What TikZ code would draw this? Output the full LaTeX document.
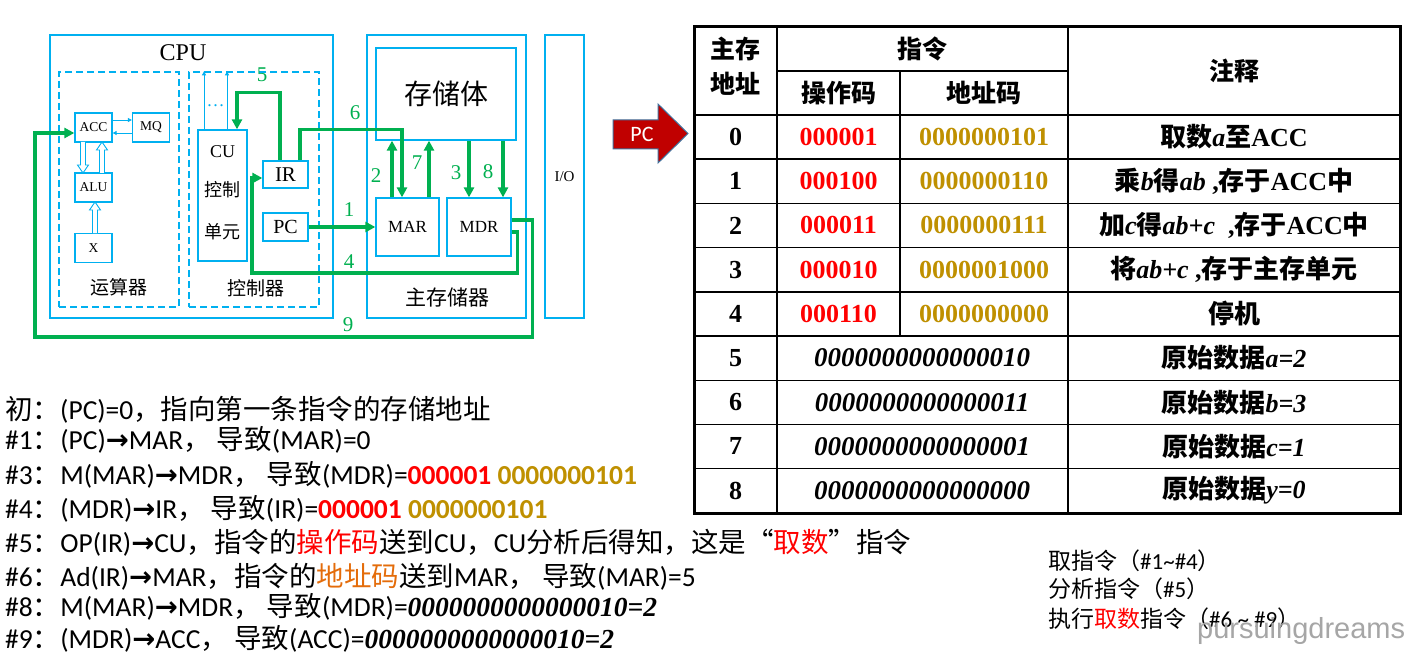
\documentclass[tikz,border=0pt]{standalone}
\usepackage{fontspec}
\setmainfont{Liberation Serif}
\newfontfamily\cjk{Noto Sans CJK SC}
\newfontfamily\cali{Carlito}
\newfontfamily\symb{DejaVu Sans}
\newfontfamily\filig{Liberation Sans}
\usepackage{xcolor}
\usetikzlibrary{arrows.meta, positioning}
\definecolor{bleu}{HTML}{00B0F0}
\definecolor{vert}{HTML}{00B050}
\definecolor{rouge}{HTML}{FF0000}
\definecolor{or}{HTML}{BF9000}
\definecolor{orange}{HTML}{E46C0A}
\definecolor{pcrouge}{HTML}{C00000}
\definecolor{pcbord}{HTML}{41719C}
\definecolor{gris}{HTML}{A6A6A6}
\newcommand\zh[1]{{\cjk #1}}
\newcommand\bi[1]{{\rmfamily\bfseries\itshape #1}}
\newcommand\fl{{\symb\bfseries →}}
\newcommand\taille[1]{\fontsize{#1}{#1}\selectfont}

\begin{document}
\begin{tikzpicture}[x=1pt, y=-1pt, >={Triangle[length=10pt,width=10pt]},
    boite/.style={draw=bleu, line width=1.3, inner sep=0},
    cadre/.style={draw=bleu, line width=2.2, inner sep=0},
    tiret/.style={draw=bleu, line width=1.3, dash pattern=on 7pt off 4pt, inner sep=0},
    fil/.style={vert, line width=3.2},
    fin/.style={bleu, line width=0.9, -{Triangle[length=4pt,width=4pt]}},
    num/.style={text=vert, font=\taille{21}, inner sep=0},
    cel/.style={font=\bfseries\taille{26}, inner sep=0},
    tete/.style={font=\bfseries\cjk\fontsize{25}{35}\selectfont, inner sep=0, align=center},
    ligne/.style={anchor=west, inner sep=0, font=\cali\taille{27.5}},
    petit/.style={anchor=west, inner sep=0, font=\cali\taille{23}}]
  \useasboundingbox (0,0) rectangle (1421,655);
  \fill[white] (0,0) rectangle (1421,655);

  % CPU et memoire
  \node[cadre, minimum width=283, minimum height=283] (cpu) at (191.5,176.5) {};
  \node[font=\taille{24}, inner sep=0] (cputxt) at (183,53) {CPU};
  \node[tiret, minimum width=120, minimum height=235] (calc) at (119,189.5) {};
  \node[tiret, minimum width=130, minimum height=235] (ctrl) at (254,189.5) {};
  \node[font=\cjk\taille{19}, inner sep=0] (calctxt) at (119,287) {运算器};
  \node[font=\cjk\taille{19}, inner sep=0] (ctrltxt) at (256,288) {控制器};
  \node[cadre, minimum width=159, minimum height=283] (mem) at (446.5,176.5) {};
  \node[cadre, minimum width=39, minimum height=283, font=\taille{15}] (io) at (564.5,176.5) {I/O};
  \node[font=\cjk\taille{21}, inner sep=0] (memtxt) at (447,297) {主存储器};

  % registres
  \node[boite, minimum width=37, minimum height=29, font=\taille{13.5}] (acc) at (93.5,127.5) {ACC};
  \node[boite, minimum width=37, minimum height=29, font=\taille{13.5}] (mq) at (151,127.5) {MQ};
  \node[boite, minimum width=37, minimum height=29, font=\taille{13.5}] (alu) at (93.5,187.5) {ALU};
  \node[boite, minimum width=37, minimum height=29, font=\taille{13.5}] (xreg) at (93.5,248) {X};
  \node[boite, minimum width=49, minimum height=131] (cu) at (222.5,195.5) {};
  \node[font=\taille{18}, inner sep=0] (cutxt) at (222.5,152) {CU};
  \node[font=\cjk\taille{18}, inner sep=0] (cuzh1) at (222.5,190) {控制};
  \node[font=\cjk\taille{18}, inner sep=0] (cuzh2) at (222.5,232) {单元};
  \node[boite, minimum width=45, minimum height=27, font=\taille{21}] (ir) at (285.5,174.5) {IR};
  \node[boite, minimum width=45, minimum height=28, font=\taille{20}] (pc) at (285.5,227) {PC};
  \node[boite, minimum width=140, minimum height=92, font=\cjk\taille{28}] (stock) at (446,94) {存储体};
  \node[boite, minimum width=63, minimum height=58, font=\taille{17}] (mar) at (407.5,227) {MAR};
  \node[boite, minimum width=64, minimum height=58, font=\taille{17}] (mdr) at (479,227) {MDR};

  % liaisons internes
  \draw[fin] ([yshift=7.5]acc.east) -- ([yshift=7.5]mq.west);
  \draw[fin] ([yshift=-5.5]mq.west) -- ([yshift=-5.5]acc.east);
  \draw[fin] ([xshift=-18.5]cu.north) -- ([xshift=-18.5]cu.north |- ctrl.north);
  \draw[fin] ([xshift=4.5]cu.north) -- ([xshift=4.5]cu.north |- ctrl.north);
  \node[text=bleu, font=\taille{18}, inner sep=0] (points) at (215.5,106) {…};
  \foreach \x/\ya/\yb in {83/142/173, 102/173/142, 95/233/202} {
    \pgfmathsetmacro\yc{\yb-8*((\yb>\ya) ? 1 : -1)}
    \draw[bleu, line width=0.9, fill=white] (\x-2.5,\ya) -- (\x-2.5,\yc) -- (\x-5.5,\yc)
      -- (\x,\yb) -- (\x+5.5,\yc) -- (\x+2.5,\yc) -- (\x+2.5,\ya);
  }

  % chemins de donnees
  \coordinate (c4) at (252,273);
  \coordinate (c9) at (35,337);
  \draw[fil,->] ([xshift=-5.5]ir.north) -- ++(0,-68) -| ([xshift=14.5]cu.north);
  \draw[fil,->] ([xshift=14.5]ir.north) -- ++(0,-31) -| ([xshift=-5.5]mar.north);
  \draw[fil,->] ([xshift=-15.5]mar.north) -- ([xshift=-15.5]mar.north |- stock.south);
  \draw[fil,->] ([xshift=21.5]mar.north) -- ([xshift=21.5]mar.north |- stock.south);
  \draw[fil,->] ([xshift=-10]mdr.north |- stock.south) -- ([xshift=-10]mdr.north);
  \draw[fil,->] ([xshift=24]mdr.north |- stock.south) -- ([xshift=24]mdr.north);
  \draw[fil,->] (pc.east) -- (pc.east -| mar.west);
  \draw[fil,->] ([yshift=-5]mdr.east) -- ++(6,0) |- (c4) |- ([yshift=-3.5]ir.west);
  \draw[fil,->] ([yshift=7]mdr.east) -- ++(21,0) |- (c9) |- ([yshift=-5.5]acc.west);
  \foreach \n/\x/\y in {5/262/75, 6/355/113, 1/349/210, 4/349/262, 9/348/325, 2/376/176, 7/417/163, 3/456/173, 8/488/172}
    \node[num] (n\n) at (\x,\y) {\n};

  % fleche PC
  \draw[fill=pcrouge, draw=pcbord, line width=1] (613,120) -- (658,120) -- (658,104) -- (688,133.5)
    -- (658,163) -- (658,149) -- (613,149) -- cycle;
  \node[text=white, font=\cali\taille{22}, inner sep=0] (pcfleche) at (642,134) {PC};

  % tableau
  \draw[line width=3] (694,27) rectangle (1400,513);
  \foreach \k in {0,...,8}
    \draw[line width=1.4] (694,115+44.2*\k) -- (1400,115+44.2*\k);
  \draw[line width=1.4] (777,71) -- (1068,71);
  \draw[line width=1.4] (777,27) -- (777,513);
  \draw[line width=1.4] (1068,27) -- (1068,513);
  \draw[line width=1.4] (900,71) -- (900,336);
  \node[tete] (hadr) at (735.5,66) {主存\\地址};
  \node[tete] (hins) at (922,49) {指令};
  \node[tete] (hop) at (838.5,93) {操作码};
  \node[tete] (had) at (984,93) {地址码};
  \node[tete] (hnote) at (1234,71) {注释};
  \foreach \i/\op/\ad/\note in {
      0/000001/0000000101/{\zh{取数}\bi{a}\zh{至}ACC},
      1/000100/0000000110/{\zh{乘}\bi{b}\zh{得}\bi{ab} ,\zh{存于}ACC\zh{中}},
      2/000011/0000000111/{\zh{加}\bi{c}\zh{得}\bi{ab+c}\ \ ,\zh{存于}ACC\zh{中}},
      3/000010/0000001000/{\zh{将}\bi{ab+c} ,\zh{存于主存单元}},
      4/000110/0000000000/{\zh{停机}}} {
    \node[cel] (adr\i) at (735.5,137+44.2*\i) {\i};
    \node[cel, text=rouge] (op\i) at (838.5,137+44.2*\i) {\op};
    \node[cel, text=or] (ad\i) at (984,137+44.2*\i) {\ad};
    \node[cel] (note\i) at (1234,137+44.2*\i) {\note};
  }
  \foreach \i/\val/\note in {5/0000000000000010/{a=2}, 6/0000000000000011/{b=3},
      7/0000000000000001/{c=1}, 8/0000000000000000/{y=0}} {
    \node[cel] (adr\i) at (735.5,137+44.2*\i) {\i};
    \node[cel, font=\taille{27}] (val\i) at (922,137+44.2*\i) {\bi{\val}};
    \node[cel] (note\i) at (1234,137+44.2*\i) {\zh{原始数据}\bi{\note}};
  }

  % etapes
  \node[ligne] (l0) at (5,410) {\zh{初：}(PC)=0\zh{，指向第一条指令的存储地址}};
  \node[ligne] (l1) at (5,440) {\#1\zh{：}(PC)\fl MAR\zh{，} \zh{导致}(MAR)=0};
  \node[ligne] (l3) at (5,475) {\#3\zh{：}M(MAR)\fl MDR\zh{，} \zh{导致}(MDR)={\bfseries\color{rouge}000001} {\bfseries\color{or}0000000101}};
  \node[ligne] (l4) at (5,509) {\#4\zh{：}(MDR)\fl IR\zh{，} \zh{导致}(IR)={\bfseries\color{rouge}000001} {\bfseries\color{or}0000000101}};
  \node[ligne] (l5) at (5,543) {\#5\zh{：}OP(IR)\fl CU\zh{，指令的}{\color{rouge}\zh{操作码}}\zh{送到}CU\zh{，}CU\zh{分析后得知，这是“}{\color{rouge}\zh{取数}}\zh{”指令}};
  \node[ligne] (l6) at (5,577) {\#6\zh{：}Ad(IR)\fl MAR\zh{，指令的}{\color{orange}\zh{地址码}}\zh{送到}MAR\zh{，} \zh{导致}(MAR)=5};
  \node[ligne] (l8) at (5,607) {\#8\zh{：}M(MAR)\fl MDR\zh{，} \zh{导致}(MDR)=\bi{0000000000000010=2}};
  \node[ligne] (l9) at (5,639) {\#9\zh{：}(MDR)\fl ACC\zh{，} \zh{导致}(ACC)=\bi{0000000000000010=2}};

  % phases
  \node[petit] (r1) at (1048,561) {\zh{取指令（}\#1\textasciitilde\#4\zh{）}};
  \node[petit] (r2) at (1048,589) {\zh{分析指令（}\#5\zh{）}};
  \node[petit] (r3) at (1048,619) {\zh{执行}{\color{rouge}\zh{取数}}\zh{指令（}\#6 \textasciitilde\ \#9\zh{）}};
  \node[anchor=west, inner sep=0, text=gris, font=\filig\taille{29}] (filigrane) at (1197,631) {pursuingdreams};
\end{tikzpicture}
\end{document}
